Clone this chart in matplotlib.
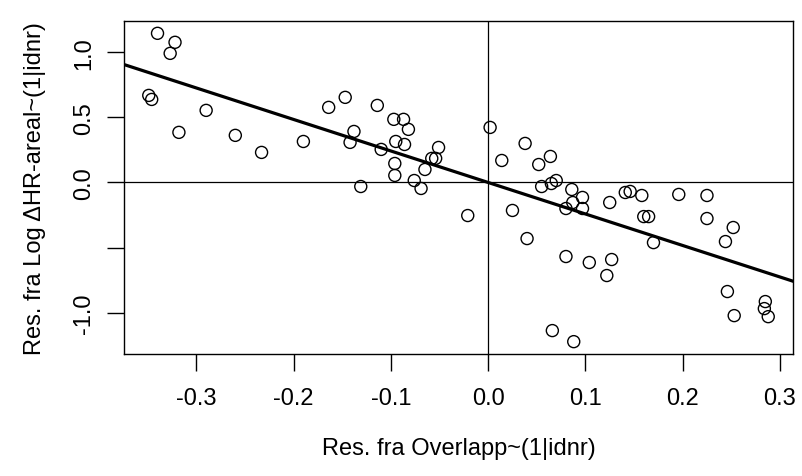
import numpy as np
import matplotlib.pyplot as plt

# residuals
res_overlapp = [
    -0.340, -0.322, -0.327, -0.349, -0.346, -0.290, -0.318, -0.260, -0.233, -0.190,
    -0.164, -0.147, -0.138, -0.142, -0.131, -0.114, -0.097, -0.087, -0.082, -0.110,
    -0.095, -0.086, -0.051, -0.058, -0.054, -0.065, -0.096, -0.096, -0.076, -0.069,
    -0.021, 0.002, 0.038, 0.014, 0.025, 0.040, 0.052, 0.064, 0.055, 0.065,
    0.070, 0.086, 0.097, 0.087, 0.080, 0.097, 0.125, 0.141, 0.146, 0.158,
    0.196, 0.160, 0.165, 0.170, 0.080, 0.104, 0.127, 0.122, 0.066, 0.088,
    0.225, 0.225, 0.252, 0.244, 0.246, 0.285, 0.284, 0.288, 0.253,
]
res_log_dhr = [
    1.146, 1.077, 0.992, 0.669, 0.638, 0.554, 0.385, 0.362, 0.231, 0.315,
    0.577, 0.654, 0.392, 0.308, -0.031, 0.592, 0.485, 0.485, 0.408, 0.254,
    0.315, 0.292, 0.269, 0.185, 0.185, 0.100, 0.146, 0.054, 0.015, -0.046,
    -0.254, 0.423, 0.300, 0.169, -0.215, -0.431, 0.138, 0.200, -0.031, -0.008,
    0.015, -0.054, -0.115, -0.154, -0.200, -0.200, -0.154, -0.077, -0.069, -0.100,
    -0.092, -0.262, -0.262, -0.462, -0.569, -0.615, -0.592, -0.715, -1.138, -1.223,
    -0.100, -0.277, -0.346, -0.454, -0.838, -0.915, -0.969, -1.031, -1.023,
]
slope = -2.42

x_ticks = [-0.3, -0.2, -0.1, 0.0, 0.1, 0.2, 0.3]
y_ticks = [-1.0, -0.5, 0.0, 0.5, 1.0]
y_ticklabels = ["-1.0", "", "0.0", "0.5", "1.0"]

plt.rcParams['font.family'] = ['Liberation Sans', 'DejaVu Sans']

fig = plt.figure(figsize=(8.02, 4.77), dpi=100)
ax = fig.add_axes([0.1546, 0.2558, 0.8342, 0.6981])

ax.scatter(res_overlapp, res_log_dhr, s=75, facecolors='none',
           edgecolors='black', linewidths=1.0, zorder=3)

ax.axhline(0, color='black', linewidth=0.9)
ax.axvline(0, color='black', linewidth=0.9)
ax.axline((0, 0), slope=slope, color='black', linewidth=2.3)

ax.margins(0.04)

ax.set_xticks(x_ticks)
ax.set_xticklabels(["%.1f" % v for v in x_ticks])
ax.set_yticks(y_ticks)
ax.set_yticklabels(y_ticklabels, rotation=90, va='center')

ax.tick_params(direction='out', length=12, width=1.0, labelsize=17)
ax.tick_params(axis='x', pad=12)
ax.tick_params(axis='y', pad=9)
for s in ax.spines.values():
    s.set_linewidth(1.0)

ax.set_xlabel("Res. fra Overlapp~(1|idnr)", fontsize=17, labelpad=20)
ax.set_ylabel("Res. fra Log ΔHR-areal~(1|idnr)", fontsize=17, labelpad=19)

fig.savefig("out.png", dpi=100)
